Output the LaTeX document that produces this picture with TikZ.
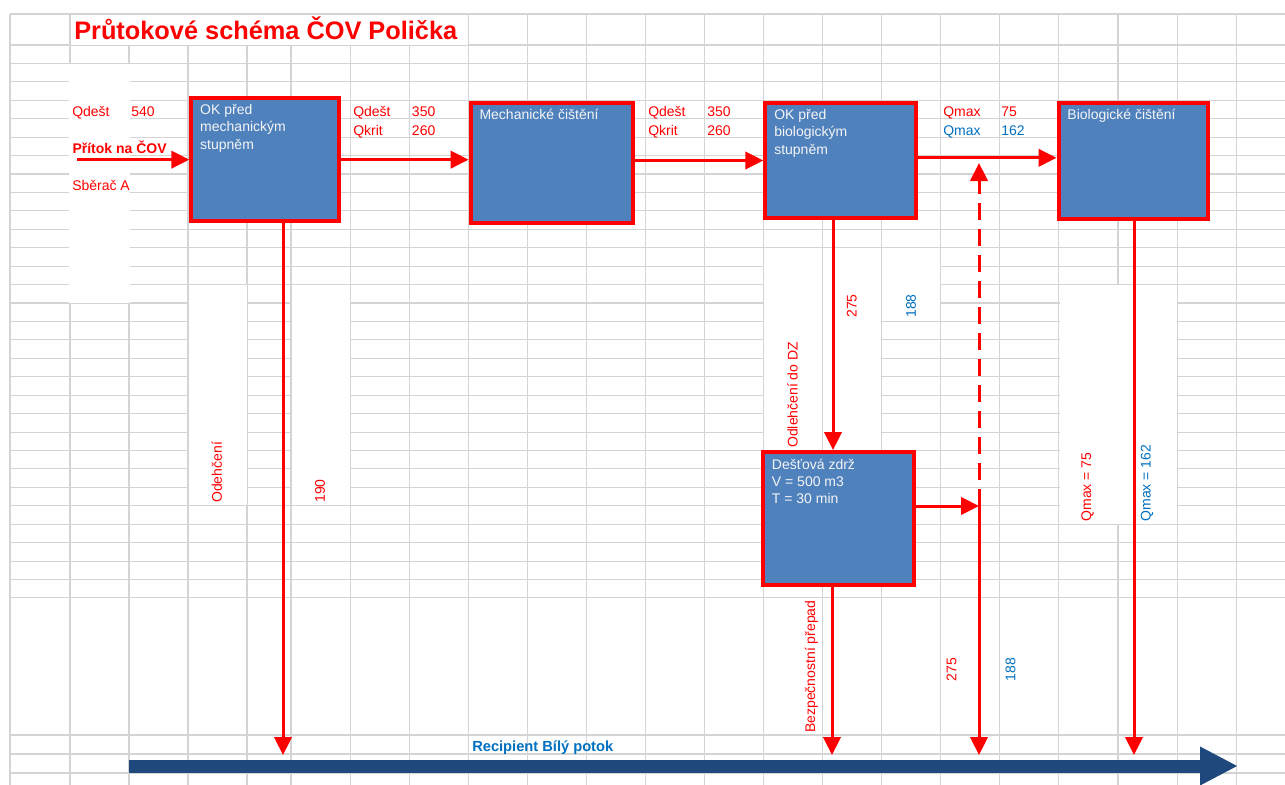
\documentclass[tikz,border=0pt]{standalone}
\usepackage{fontspec}
\setmainfont{Liberation Sans}
\usepackage{tikz}
\usetikzlibrary{arrows.meta, positioning}
\definecolor{covred}{RGB}{255, 0, 0}
\definecolor{covblue}{RGB}{0, 112, 192}
\definecolor{stagefill}{RGB}{79, 129, 189}
\definecolor{stagetxt}{RGB}{245, 245, 245}
\definecolor{potokblue}{RGB}{31, 73, 125}
\definecolor{gridgray}{RGB}{212, 212, 212}
\tikzset{
    gridline/.style={draw=gridgray, line width=0.8pt},
    whitecell/.style={fill=white, draw=none},
    stagebox/.style={rectangle, draw=covred, line width=3pt, fill=stagefill, inner sep=0pt},
    stagetext/.style={anchor=north west, inner sep=0pt, align=left, text=stagetxt, font=\fontsize{10.5}{13}\selectfont},
    flowline/.style={draw=covred, line width=2.25pt, -{Triangle[width=13pt, length=13.5pt]}},
    overflow/.style={flowline, dash pattern=on 12.75pt off 6.75pt},
    recipient/.style={draw=potokblue, line width=9.75pt, -{Triangle[width=27pt, length=28.5pt]}},
    lbl/.style={anchor=base west, inner sep=0pt, font=\fontsize{10.5}{12.6}\selectfont},
    redlbl/.style={lbl, text=covred},
    bluelbl/.style={lbl, text=covblue},
    vlbl/.style={anchor=west, rotate=90, inner sep=0pt, font=\fontsize{10.5}{12.6}\selectfont},
    redvlbl/.style={vlbl, text=covred},
    bluevlbl/.style={vlbl, text=covblue}
}

\begin{document}
\begin{tikzpicture}[x=0.75pt, y=-0.75pt]
    \useasboundingbox (0,0) rectangle (1285,785);
    \fill[white] (0,0) rectangle (1285,785);

    % sheet grid
    \foreach \gx in {10,70,129,188,247}
        \draw[gridline] (\gx,14) -- (\gx,785);
    \foreach \i in {0,...,16}
        \draw[gridline] ({291+59.07*\i},14) -- ({291+59.07*\i},785);
    \foreach \gy in {14,45,735,754,773}
        \draw[gridline] (10,\gy) -- (1285,\gy);
    \foreach \i in {1,...,30}
        \draw[gridline] (10,{45+18.43*\i}) -- (1285,{45+18.43*\i});

    % merged cells
    \fill[whitecell] (70.5,14.5) rectangle (467.7,44.5);
    \fill[whitecell] (69,63.9) rectangle (130,302.6);
    \fill[whitecell] (188.5,285.1) rectangle (246.5,505.3);
    \fill[whitecell] (291.5,285.1) rectangle (349.6,505.3);
    \fill[whitecell] (764.1,248.2) rectangle (822.2,450);
    \fill[whitecell] (823.2,248.2) rectangle (881.3,450);
    \fill[whitecell] (882.3,248.2) rectangle (940.4,321);
    \fill[whitecell] (1059.5,285.1) rectangle (1176.7,523.7);

    % title
    \node[anchor=base west, inner sep=0pt, text=covred, font=\fontsize{19}{22}\selectfont\bfseries] (title) at (74,39.5) {Průtokové schéma ČOV Polička};

    % stages
    \node[stagebox, minimum width=110.55pt, minimum height=92.5pt] (ok1) at (265,159.65) {};
    \node[stagebox, minimum width=121.6pt, minimum height=90pt] (mech) at (551.65,163) {};
    \node[stagebox, minimum width=112.7pt, minimum height=86.25pt] (ok2) at (840.45,160.5) {};
    \node[stagebox, minimum width=112.1pt, minimum height=86.8pt] (bio) at (1133.25,160.85) {};
    \node[stagebox, minimum width=113pt, minimum height=99.5pt] (dz) at (838.35,518.35) {};

    \node[stagetext] (ok1txt) at ([xshift=8pt, yshift=-6pt]ok1.north west) {OK před\\mechanickým\\stupněm};
    \node[stagetext] (mechtxt) at ([xshift=8pt, yshift=-6pt]mech.north west) {Mechanické čištění};
    \node[stagetext] (ok2txt) at ([xshift=8pt, yshift=-6pt]ok2.north west) {OK před\\biologickým\\stupněm};
    \node[stagetext] (biotxt) at ([xshift=8pt, yshift=-6pt]bio.north west) {Biologické čištění};
    \node[stagetext] (dztxt) at ([xshift=8pt, yshift=-6.5pt]dz.north west) {Dešťová zdrž\\V = 500 m3\\T = 30 min};

    % free ends
    \coordinate (inflow) at (77,159.65);
    \coordinate (dzout) at (979,506);
    \coordinate (dztop) at (979,163);
    \coordinate (odl) at (283,755);
    \coordinate (dzin) at (833,0);
    \coordinate (prepad) at (832,755);
    \coordinate (dzpotok) at (979,755);
    \coordinate (bioout) at (1134,755);
    \coordinate (rcpA) at (129,766);
    \coordinate (rcpB) at (1238,766);

    % flows
    \draw[recipient] (rcpA) -- (rcpB);
    \draw[flowline] (inflow) -- (ok1.west);
    \draw[flowline] (ok1.east) -- (ok1.east -| mech.west);
    \draw[flowline] (mech.east |- ok2.west) -- (ok2.west);
    \draw[flowline] ([yshift=2pt]ok2.east) -- ([yshift=2pt]ok2.east -| bio.west);
    \draw[flowline] (dzin |- ok2.south) -- (dzin |- dz.north);
    \draw[flowline] (dz.east |- dzout) -- (dzout);
    \draw[overflow] (dzout) -- (dztop);
    \draw[flowline] (dzout) -- (dzpotok);
    \draw[flowline] (odl |- ok1.south) -- (odl);
    \draw[flowline] (prepad |- dz.south) -- (prepad);
    \draw[flowline] (bioout |- bio.south) -- (bioout);

    % labels
    \node[redlbl] (qd0) at (72,116.7) {Qdešt};
    \node[redlbl] (qd0v) at (131,116.7) {540};
    \node[redlbl, font=\fontsize{10.5}{12.6}\selectfont\bfseries] (pritok) at (72.3,153.3) {Přítok na ČOV};
    \node[redlbl] (sberac) at (72,190) {Sběrač A};
    \node[redlbl] (qd1) at (353,116.7) {Qdešt};
    \node[redlbl] (qd1v) at (411.7,116.7) {350};
    \node[redlbl] (qk1) at (353,135) {Qkrit};
    \node[redlbl] (qk1v) at (411.7,135) {260};
    \node[redlbl] (qd2) at (648,116.7) {Qdešt};
    \node[redlbl] (qd2v) at (707,116.7) {350};
    \node[redlbl] (qk2) at (648,135) {Qkrit};
    \node[redlbl] (qk2v) at (707,135) {260};
    \node[redlbl] (qm1) at (943,116.7) {Qmax};
    \node[redlbl] (qm1v) at (1001,116.7) {75};
    \node[bluelbl] (qm2) at (943,135) {Qmax};
    \node[bluelbl] (qm2v) at (1001,135) {162};

    \node[redvlbl] (odlabel) at (216.7,503) {Odehčení};
    \node[redvlbl] (odval) at (320,503) {190};
    \node[redvlbl] (dzval) at (851.7,318) {275};
    \node[bluevlbl] (dzvalb) at (911,318) {188};
    \node[redvlbl] (dzlabel) at (792.5,448) {Odlehčení do DZ};
    \node[redvlbl] (prepadlabel) at (811.5,733) {Bezpečnostní přepad};
    \node[redvlbl] (outval) at (951.5,681.5) {275};
    \node[bluevlbl] (outvalb) at (1010.6,681.5) {188};
    \node[redvlbl] (bioval) at (1087.5,521.7) {Qmax = 75};
    \node[bluevlbl] (biovalb) at (1147,521.7) {Qmax = 162};

    \node[anchor=base west, inner sep=0pt, text=covblue, font=\fontsize{11}{13}\selectfont\bfseries] (rcplabel) at (472,751) {Recipient Bílý potok};
\end{tikzpicture}
\end{document}
